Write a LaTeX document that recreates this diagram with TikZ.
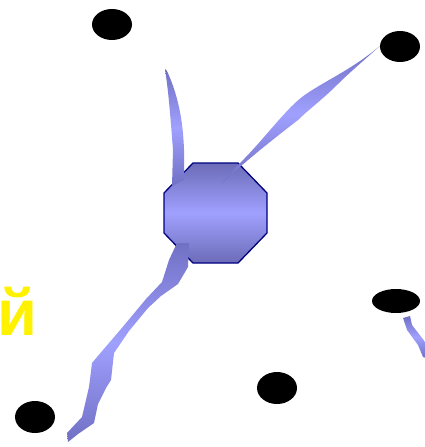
\documentclass[tikz,border=0pt]{standalone}
\usepackage{fontspec}
\newfontfamily\cyrsans{Liberation Sans}
\usetikzlibrary{shapes.geometric}
\definecolor{streakdark}{RGB}{112,112,196}
\definecolor{streaklight}{RGB}{160,160,255}
\definecolor{octdark}{RGB}{108,108,184}
\definecolor{octedge}{RGB}{0,0,128}
\pgfdeclareverticalshading{lavender}{100bp}{color(0bp)=(octdark); color(25bp)=(octdark); color(50bp)=(streaklight); color(75bp)=(octdark); color(100bp)=(octdark)}
\pgfdeclareverticalshading{lavstreak}{100bp}{color(0bp)=(streakdark); color(25bp)=(streakdark); color(50bp)=(streaklight); color(75bp)=(streakdark); color(100bp)=(streakdark)}
\tikzset{
  blob/.style={ellipse, fill=black, draw=none, inner sep=0pt},
  streak/.style={shade, shading=lavstreak, draw=none},
  octo/.style={shade, shading=lavender, draw=octedge, line width=1.3pt, line join=miter}
}
\begin{document}
\begin{tikzpicture}[x=1pt,y=-1pt]
\useasboundingbox (0,0) rectangle (425,447);
% octagon
\path[octo] (193,163) -- (238,163) -- (267,193) -- (267,233) -- (238,263) -- (193,263) -- (164,233) -- (164,193) -- cycle;
% top streak
\path[streak] (165,69) .. controls (169,95) and (171,125) .. (173,150) -- (172,186) -- (184,180) -- (184,150) .. controls (183,120) and (178,95) .. (167,71) -- cycle;
% NE streak
\path[streak] (222,183) -- (237,166) .. controls (262,142) and (283,112) .. (302,97) .. controls (322,82) and (352,70) .. (381,45) .. controls (362,62) and (348,74) .. (338,84) .. controls (322,100) and (308,110) .. (298,120) .. controls (276,137) and (256,153) .. (241,166) -- cycle;
% SW streak
\path[streak] (177,243) -- (189,243) -- (188,267) -- (178,284) -- (161,296) -- (148,308) -- (129,331) -- (114,353) -- (111,380) -- (106,388) -- (98,404) -- (94,423) -- (78,434) -- (68,442) -- (67,433) -- (82,417) -- (89,387) -- (92,363) -- (97,357) -- (121,329) -- (146,299) -- (162,282) -- (169,260) -- cycle;
% small right streak
\path[streak] (403,318) -- (410,316) -- (412,325) -- (422,338) -- (426,343) -- (426,358) -- (423,357) -- (418,345) -- (407,330) -- cycle;
% black ellipses
\node[blob, minimum width=40pt, minimum height=31pt] (e1) at (112,24.5) {};
\node[blob, minimum width=40pt, minimum height=31pt] (e2) at (400,46.5) {};
\node[blob, minimum width=48pt, minimum height=24pt] (e3) at (396,301) {};
\node[blob, minimum width=40pt, minimum height=32pt] (e4) at (277,388) {};
\node[blob, minimum width=40pt, minimum height=32pt] (e5) at (35,417) {};
% yellow letter
\node[anchor=base west, inner sep=0pt, text=yellow, font=\cyrsans\bfseries\fontsize{65}{65}\selectfont] (t1) at (-3,335) {й};
\end{tikzpicture}
\end{document}
